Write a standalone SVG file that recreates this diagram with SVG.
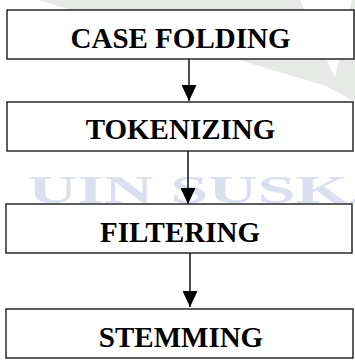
<svg xmlns="http://www.w3.org/2000/svg" width="355" height="360" viewBox="0 0 355 360">
  <defs>
    <style>
      .box { fill: #ffffff; stroke: #1a1a1a; stroke-width: 1.4; }
      .lbl { font-family: "Liberation Serif", "Times New Roman", serif; font-weight: bold; font-size: 29px; fill: #000000; text-anchor: middle; }
      .edge { stroke: #000000; stroke-width: 1.4; fill: none; }
      .wm { fill: #dcdff0; font-family: "Liberation Serif", serif; font-weight: bold; font-size: 40px; }
    </style>
    <marker id="arr" viewBox="0 0 16 15" refX="16" refY="7.5" markerWidth="16" markerHeight="15" markerUnits="userSpaceOnUse" orient="auto">
      <path d="M0,0 L16,7.5 L0,15 Z" fill="#000000"/>
    </marker>
  </defs>
  <rect x="0" y="0" width="355" height="360" fill="#ffffff"/>
  <g id="watermark">
    <polygon points="38,0 355,0 355,102 326,86" fill="#e6e9e6"/>
    <polygon points="300,0 352,0 335,78" fill="#ffffff"/>
    <text class="wm" x="28" y="203" textLength="370" lengthAdjust="spacingAndGlyphs">UIN SUSKA</text>
  </g>
  <g id="connectors">
    <line class="edge" x1="189" y1="59" x2="189" y2="101" marker-end="url(#arr)"/>
    <line class="edge" x1="188" y1="151" x2="188" y2="204" marker-end="url(#arr)"/>
    <line class="edge" x1="190" y1="253" x2="190" y2="307" marker-end="url(#arr)"/>
  </g>
  <g id="case-folding">
    <rect class="box" x="7" y="10" width="347" height="49"/>
    <text class="lbl" x="180.5" y="47.5">CASE FOLDING</text>
  </g>
  <g id="tokenizing">
    <rect class="box" x="7" y="102" width="346" height="49"/>
    <text class="lbl" x="180.5" y="138.5">TOKENIZING</text>
  </g>
  <g id="filtering">
    <rect class="box" x="6" y="204" width="346" height="49"/>
    <text class="lbl" x="180" y="242">FILTERING</text>
  </g>
  <g id="stemming">
    <rect class="box" x="6" y="309" width="347" height="49"/>
    <text class="lbl" x="181" y="347">STEMMING</text>
  </g>
</svg>
